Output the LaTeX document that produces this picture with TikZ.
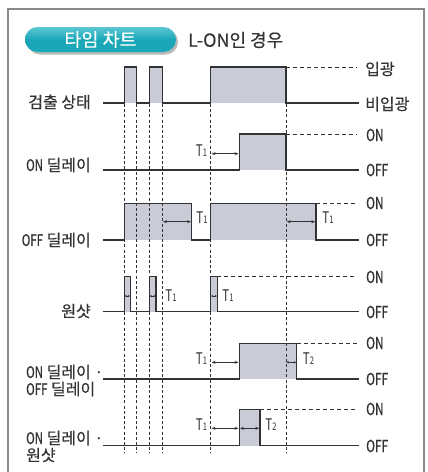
\documentclass[tikz,border=0pt]{standalone}
\usepackage{fontspec}
\setmainfont{Noto Sans CJK KR}
\newfontfamily\lab[FakeBold=0.4]{Noto Sans CJK KR}
\newfontfamily\latc[FakeStretch=0.72,FakeBold=0.4]{Noto Sans CJK KR}
\newfontfamily\latt[FakeStretch=0.72]{Noto Sans CJK KR}
\usetikzlibrary{arrows.meta}
\definecolor{tealA}{HTML}{1AA8B8}
\definecolor{tealB}{HTML}{5CC6D2}
\definecolor{pfill}{HTML}{C9CCD6}
\definecolor{sig}{HTML}{333333}
\definecolor{frame}{HTML}{8A8A8A}
\newcommand{\Tsub}[1]{T{\fontsize{10.5}{10}\selectfont #1}}
\begin{document}
\begin{tikzpicture}[x=1pt,y=-1pt,
 sigline/.style={line width=1.4pt, draw=sig, line join=miter},
 pulse/.style={fill=pfill},
 guide/.style={dash pattern=on 3pt off 2.2pt, line width=0.7pt, draw=sig},
 ext/.style={dash pattern=on 4pt off 3pt, line width=0.8pt, draw=sig},
 tarr/.style={{Stealth[length=4pt,width=3pt]}-{Stealth[length=4pt,width=3pt]}, line width=0.7pt, draw=sig},
 sarr/.style={{Stealth[length=2pt,width=2.4pt]}-{Stealth[length=2pt,width=2.4pt]}, line width=0.6pt, draw=sig},
 lbl/.style={font=\lab\fontsize{16}{18}\selectfont, inner sep=0pt, text=sig},
 st/.style={font=\latc\fontsize{16.5}{17}\selectfont, anchor=west, inner sep=0pt, text=sig},
 tl/.style={font=\latt\fontsize{16}{16}\selectfont, inner sep=0pt, text=sig}]
\useasboundingbox (0,0) rectangle (428,472);
\fill[white] (0,0) rectangle (428,472);
% frame
\draw[frame, line width=1.5pt] (8,473) -- (8,9) -- (424,9) -- (424,473);
% title pill
\fill[gray!55, rounded corners=12.5pt] (27.5,29.5) rectangle (178,54.5);
\shade[top color=tealB, bottom color=tealA, middle color=tealA, rounded corners=12.5pt] (25,27) rectangle (176,52);
\node[font=\lab\fontsize{18.5}{19}\selectfont, text=white] (title) at (100.5,39.5) {타임 차트};
\node[font=\lab\fontsize{18}{19}\selectfont, text=sig, anchor=west, inner sep=0pt] (case) at (188,40) {L-ON인 경우};

% fills
\fill[pulse] (124.3,103) rectangle (136.7,67);
\fill[pulse] (149.3,103) rectangle (162.3,67);
\fill[pulse] (210.7,103) rectangle (286,67);
\fill[pulse] (239.3,170) rectangle (286,134);
\fill[pulse] (124.3,240) rectangle (191.7,203.3);
\fill[pulse] (210.7,240) rectangle (316,203.3);
\fill[pulse] (124.3,311.7) rectangle (130.3,276.7);
\fill[pulse] (149.3,311.7) rectangle (156,276.7);
\fill[pulse] (210.7,311.7) rectangle (217.3,276.7);
\fill[pulse] (239.3,379) rectangle (296.7,343.3);
\fill[pulse] (239.3,445.7) rectangle (260,409.3);

% guides
\foreach \x in {124.3,136.7,149.3,162.3,210.7,286}
  \draw[guide] (\x,104) -- (\x,453);

% extension dashes
\draw[ext] (286,67) -- (357,67);
\draw[ext] (286,134) -- (357,134);
\draw[ext] (316,203.3) -- (357,203.3);
\draw[ext] (217.3,276.7) -- (357,276.7);
\draw[ext] (296.7,343.3) -- (357,343.3);
\draw[ext] (260,409.3) -- (357,409.3);

% signal lines
\draw[sigline] (103,103) -- (124.3,103) -- (124.3,67) -- (136.7,67) -- (136.7,103) -- (149.3,103) -- (149.3,67) -- (162.3,67) -- (162.3,103) -- (210.7,103) -- (210.7,67) -- (286,67) -- (286,103) -- (359,103);
\draw[sigline] (103,170) -- (239.3,170) -- (239.3,134) -- (286,134) -- (286,170) -- (359,170);
\draw[sigline] (103,240) -- (124.3,240) -- (124.3,203.3) -- (191.7,203.3) -- (191.7,240) -- (210.7,240) -- (210.7,203.3) -- (316,203.3) -- (316,240) -- (359,240);
\draw[sigline] (103,311.7) -- (124.3,311.7) -- (124.3,276.7) -- (130.3,276.7) -- (130.3,311.7) -- (149.3,311.7) -- (149.3,276.7) -- (156,276.7) -- (156,311.7) -- (210.7,311.7) -- (210.7,276.7) -- (217.3,276.7) -- (217.3,311.7) -- (359,311.7);
\draw[sigline] (103,379) -- (239.3,379) -- (239.3,343.3) -- (296.7,343.3) -- (296.7,379) -- (359,379);
\draw[sigline] (103,445.7) -- (239.3,445.7) -- (239.3,409.3) -- (260,409.3) -- (260,445.7) -- (359,445.7);

% timing arrows
\draw[tarr] (211.5,153.7) -- (238.5,153.7);
\draw[tarr] (163,221.7) -- (191,221.7);
\draw[tarr] (286.7,221.7) -- (315.3,221.7);
\draw[sarr] (124.8,296) -- (129.8,296);
\draw[sarr] (149.8,296) -- (155.5,296);
\draw[sarr] (211.2,296) -- (216.8,296);
\draw[tarr] (211.5,362.3) -- (238.5,362.3);
\draw[sarr] (286.6,362.3) -- (296,362.3);
\draw[tarr] (211.5,428.3) -- (238.5,428.3);
\draw[tarr] (240,428.3) -- (259.3,428.3);

% T labels
\node[tl] (t1a) at (201.5,151) {\Tsub{1}};
\node[tl] (t1b) at (202,218) {\Tsub{1}};
\node[tl] (t1c) at (328,218) {\Tsub{1}};
\node[tl] (t1d) at (171,296) {\Tsub{1}};
\node[tl] (t1e) at (228,296) {\Tsub{1}};
\node[tl] (t1f) at (201.5,359) {\Tsub{1}};
\node[tl] (t2f) at (308.5,359) {\Tsub{2}};
\node[tl] (t1g) at (201.5,425) {\Tsub{1}};
\node[tl] (t2g) at (271,425) {\Tsub{2}};

% right labels
\node[lbl, anchor=west] (r1) at (365,69) {입광};
\node[lbl, anchor=west] (r2) at (365,104) {비입광};
\node[st] (r3) at (366,135) {ON};
\node[st] (r4) at (366,170) {OFF};
\node[st] (r5) at (366,203) {ON};
\node[st] (r6) at (366,240) {OFF};
\node[st] (r7) at (366,277) {ON};
\node[st] (r8) at (366,312) {OFF};
\node[st] (r9) at (366,343) {ON};
\node[st] (r10) at (366,379) {OFF};
\node[st] (r11) at (366,409) {ON};
\node[st] (r12) at (366,446) {OFF};

% left labels
\node[lbl, anchor=east] (l1) at (91,102) {검출 상태};
\node[lbl, anchor=west] (l2) at (26,165) {{\latc ON} 딜레이};
\node[lbl, anchor=east] (l3) at (91,240) {{\latc OFF} 딜레이};
\node[lbl, anchor=east] (l4) at (91,311) {원샷};
\node[lbl, anchor=west] (l5a) at (26,372) {{\latc ON} 딜레이 ·};
\node[lbl, anchor=west] (l5b) at (26,389) {{\latc OFF} 딜레이};
\node[lbl, anchor=west] (l6a) at (26,438) {{\latc ON} 딜레이 ·};
\node[lbl, anchor=west] (l6b) at (26,455) {원샷};
\end{tikzpicture}
\end{document}
